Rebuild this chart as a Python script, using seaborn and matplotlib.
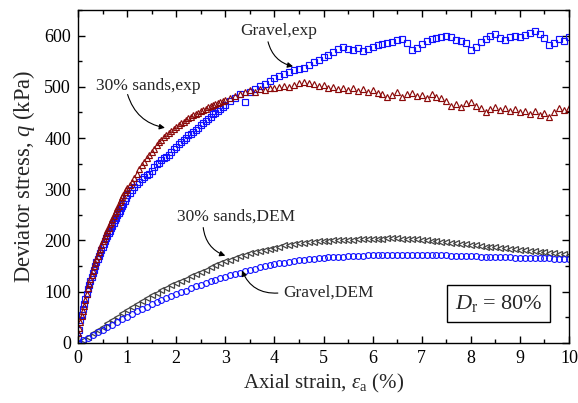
import numpy as np
import pandas as pd
import seaborn as sns
import matplotlib
matplotlib.use("Agg")
import matplotlib.pyplot as plt
from matplotlib.ticker import MultipleLocator

# ---------------- data ----------------
# experimental strain grid (%)
exp_strain = [round(0.025 * i, 3) for i in range(41)] + \
             [round(1.0 + 0.05 * i, 2) for i in range(1, 41)] + \
             [round(3.0 + 0.1 * i, 1) for i in range(1, 71)]

sands_exp = [18, 28, 40, 52, 62, 72, 84, 96, 106, 115, 124, 133, 141, 149, 156, 163, 170, 177, 184, 191,
             198, 203, 208, 214, 220, 225, 231, 236, 242, 248, 253, 258, 264, 268, 274, 279, 285, 289, 294, 298, 302,
             308, 314, 322, 330, 339, 347, 353, 360, 366, 372, 379, 386, 392, 397, 402, 406, 410, 414, 418, 422,
             426, 429, 432, 436, 439, 441, 444, 446, 449, 452, 455, 457, 460, 462, 464, 466, 469, 471, 473, 475,
             478, 482, 486, 489, 493, 490, 496, 494, 498, 497, 500, 501, 499, 504, 508, 510, 507, 505, 501, 503,
             498, 500, 495, 497, 494, 497, 492, 495, 490, 493, 488, 486, 480, 484, 489, 480, 486, 488, 482, 484,
             479, 486, 481, 478, 472, 463, 466, 460, 468, 470, 462, 458, 450, 456, 460, 455, 458, 452, 456, 450,
             453, 447, 452, 445, 448, 442, 450, 458, 455, 458]

gravel_exp = [10, 25, 45, 55, 66, 76, 86, 96, 104, 113, 121, 129, 136, 143, 150, 157, 163, 170, 176, 182,
              188, 193, 198, 204, 209, 214, 219, 224, 229, 234, 239, 244, 250, 254, 258, 263, 267, 272, 277, 282, 288,
              293, 298, 304, 310, 314, 319, 324, 327, 330, 336, 343, 349, 352, 357, 360, 362, 367, 372, 378, 382,
              388, 392, 396, 400, 405, 408, 412, 416, 420, 425, 430, 434, 438, 442, 446, 449, 453, 457, 461, 464,
              472, 478, 486, 470, 490, 496, 501, 506, 512, 518, 521, 525, 529, 532, 535, 537, 542, 548, 553, 558,
              563, 568, 573, 577, 574, 572, 576, 571, 574, 578, 581, 584, 586, 588, 591, 593, 585, 572, 576, 584,
              590, 593, 596, 598, 600, 597, 592, 590, 585, 572, 578, 588, 594, 599, 603, 596, 592, 598, 600, 597,
              602, 605, 609, 604, 595, 581, 586, 594, 590, 597]

# DEM strain grid (%)
dem_strain = [round(0.1 * i, 1) for i in range(101)]

sands_dem = [0, 6, 12, 18, 25, 31, 38, 45, 51, 58, 64, 70, 76, 82, 88, 93, 98, 103, 107, 112,
             116, 121, 125, 130, 134, 138, 142, 147, 151, 155, 159, 162, 166, 169, 172, 175, 177, 180, 182, 184,
             186, 188, 190, 191, 193, 194, 195, 196, 197, 198, 199, 199, 200, 200, 201, 201, 201, 202, 202, 202,
             203, 203, 203, 204, 204, 204, 203, 203, 202, 202, 201, 200, 199, 198, 197, 196, 195, 194, 193, 192,
             191, 190, 189, 188, 188, 187, 186, 185, 184, 183, 182, 181, 180, 179, 178, 177, 176, 175, 174, 173, 172]

gravel_dem = [0, 5, 10, 15, 20, 25, 30, 35, 41, 46, 51, 56, 61, 66, 70, 75, 79, 83, 87, 91,
              95, 99, 102, 106, 110, 113, 116, 120, 123, 126, 129, 132, 135, 137, 140, 142, 144, 147, 149, 151,
              153, 155, 156, 158, 159, 161, 162, 163, 164, 165, 166, 167, 167, 168, 168, 169, 169, 170, 170, 171,
              171, 171, 171, 172, 172, 172, 172, 172, 172, 172, 172, 172, 171, 171, 171, 171, 170, 170, 170, 169,
              169, 169, 168, 168, 168, 168, 167, 167, 167, 166, 166, 166, 166, 165, 165, 165, 165, 164, 164, 164, 164]

x_ticks = [0, 1, 2, 3, 4, 5, 6, 7, 8, 9, 10]
y_ticks = [0, 100, 200, 300, 400, 500, 600]

# ---------------- style ----------------
sns.set_theme(style="ticks")
plt.rcParams["font.family"] = ["Liberation Serif", "DejaVu Serif"]
plt.rcParams["mathtext.fontset"] = "custom"
plt.rcParams["mathtext.rm"] = "Liberation Serif"
plt.rcParams["mathtext.it"] = "Liberation Serif:italic"
plt.rcParams["mathtext.bf"] = "Liberation Serif:bold"

fig = plt.figure(figsize=(5.78, 4.03), dpi=100)
ax = fig.add_axes([0.135, 0.1496, 0.8494, 0.8254])

df_ge = pd.DataFrame({"x": exp_strain, "y": gravel_exp})
df_se = pd.DataFrame({"x": exp_strain, "y": sands_exp})
df_sd = pd.DataFrame({"x": dem_strain, "y": sands_dem})
df_gd = pd.DataFrame({"x": dem_strain, "y": gravel_dem})

common = dict(ax=ax, estimator=None, sort=False, linestyle="none", legend=False)
sns.lineplot(data=df_sd, x="x", y="y", marker="<", markersize=4.8, markerfacecolor="none",
             markeredgecolor="#454545", markeredgewidth=0.9, color="#454545", **common)
sns.lineplot(data=df_gd, x="x", y="y", marker="o", markersize=4.2, markerfacecolor="none",
             markeredgecolor="#1010ff", markeredgewidth=0.8, color="#1010ff", **common)
sns.lineplot(data=df_ge, x="x", y="y", marker="s", markersize=4.1, markerfacecolor="none",
             markeredgecolor="#1010ff", markeredgewidth=0.85, color="#1010ff", **common)
sns.lineplot(data=df_se, x="x", y="y", marker="^", markersize=4.6, markerfacecolor="none",
             markeredgecolor="#8b0a0a", markeredgewidth=0.85, color="#8b0a0a", **common)

ax.set_xlim(0, 10)
ax.set_ylim(0, 650)
ax.set_xticks(x_ticks)
ax.set_yticks(y_ticks)
ax.set_xticklabels([str(t) for t in x_ticks])
ax.set_yticklabels([str(t) for t in y_ticks])
ax.xaxis.set_minor_locator(MultipleLocator(0.5))
ax.yaxis.set_minor_locator(MultipleLocator(50))
ax.tick_params(which="both", direction="in", top=True, right=True, colors="black",
               labelsize=13, width=1.0)
ax.tick_params(which="major", length=5, pad=5)
ax.tick_params(which="minor", length=3)
for s in ax.spines.values():
    s.set_visible(True)
    s.set_linewidth(1.0)
    s.set_color("black")

ax.set_xlabel(r"Axial strain, $\varepsilon_{\rm a}$ (%)", fontsize=15, labelpad=4)
ax.set_ylabel(r"Deviator stress, $q$ (kPa)", fontsize=16.3, labelpad=5)

# annotations
tfs = 12.5
ax.text(4.08, 609, "Gravel,exp", fontsize=tfs, ha="center", va="center")
ax.text(1.44, 502, "30% sands,exp", fontsize=tfs, ha="center", va="center")
ax.text(3.21, 247, "30% sands,DEM", fontsize=tfs, ha="center", va="center")
ax.text(5.1, 97, "Gravel,DEM", fontsize=tfs, ha="center", va="center")

arr = dict(arrowstyle="-|>", color="black", lw=0.8, mutation_scale=8, shrinkA=0, shrinkB=0)
ax.annotate("", xy=(4.38, 540), xytext=(3.87, 588),
            arrowprops=dict(connectionstyle="arc3,rad=0.3", **arr))
ax.annotate("", xy=(1.77, 420), xytext=(1.01, 485),
            arrowprops=dict(connectionstyle="arc3,rad=0.3", **arr))
ax.annotate("", xy=(3.0, 170), xytext=(2.55, 225),
            arrowprops=dict(connectionstyle="arc3,rad=0.3", **arr))
ax.annotate("", xy=(3.34, 141), xytext=(4.07, 97),
            arrowprops=dict(connectionstyle="arc3,rad=-0.35", **arr))

ax.text(8.57, 77, r"$D_{\rm r}$ = 80%", fontsize=16, ha="center", va="center",
        bbox=dict(boxstyle="square,pad=0.35", facecolor="white", edgecolor="black", linewidth=1.0))

fig.savefig("out.png", dpi=100)
